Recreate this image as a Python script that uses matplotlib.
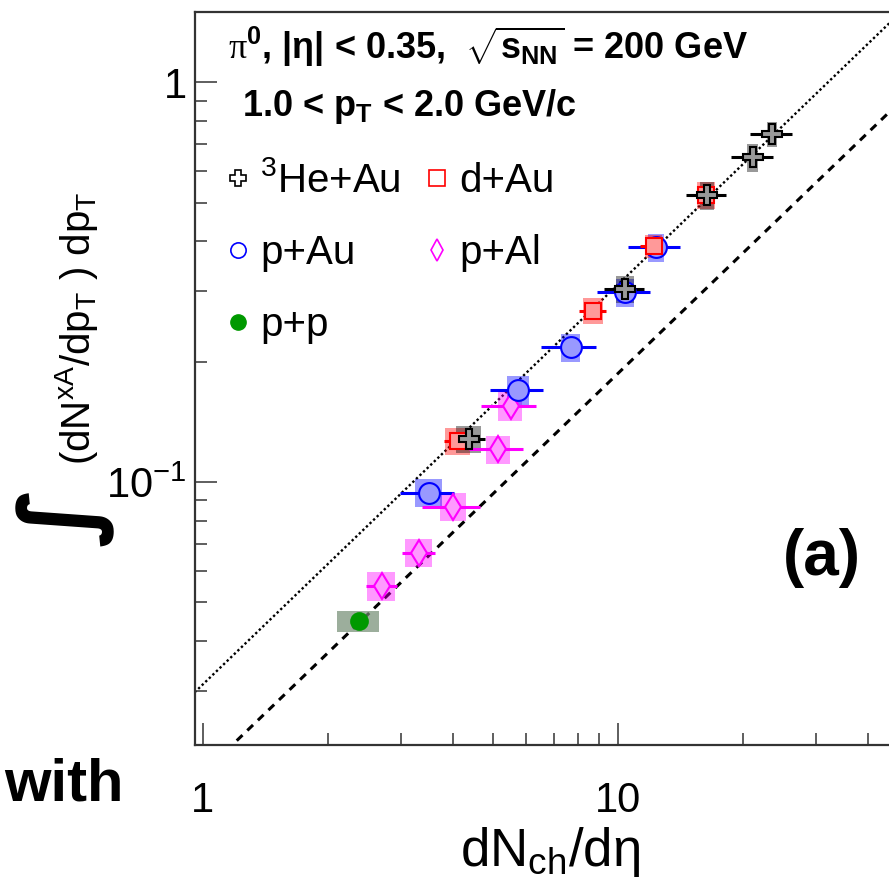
import matplotlib
matplotlib.use("Agg")
import matplotlib.pyplot as plt
import numpy as np
from matplotlib.lines import Line2D
from matplotlib.ticker import LogLocator, NullFormatter

plt.rcParams["font.family"] = ["Liberation Sans", "DejaVu Sans"]
plt.rcParams["mathtext.default"] = "regular"
plt.rcParams["mathtext.fontset"] = "custom"
plt.rcParams["mathtext.rm"] = "Liberation Serif"

# p+Au
pau_x = [3.50, 5.75, 7.70, 10.4, 12.35]
pau_y = [0.0942, 0.170, 0.2176, 0.2985, 0.387]
pau_xerr = [0.52, 0.84, 1.16, 1.52, 1.75]
pau_xsys = [0.26, 0.36, 0.41, 0.53, 0.55]
pau_ysys = [0.0076, 0.0138, 0.0176, 0.0242, 0.0313]

# p+Al
pal_x = [2.70, 3.32, 4.01, 5.14, 5.51]
pal_y = [0.0550, 0.0666, 0.0868, 0.121, 0.155]
pal_xerr = [0.23, 0.31, 0.63, 0.76, 0.82]
pal_xsys = [0.21, 0.25, 0.29, 0.34, 0.36]
pal_ysys = [0.0045, 0.0054, 0.0070, 0.0098, 0.0126]

# d+Au
dau_x = [4.11, 8.71, 12.2, 16.3]
dau_y = [0.127, 0.268, 0.389, 0.522]
dau_xerr = [0.30, 0.65, 0.90, 1.35]
dau_xsys = [0.28, 0.47, 0.55, 0.83]
dau_ysys = [0.0099, 0.020, 0.025, 0.041]

# 3He+Au
heau_x = [4.38, 10.4, 16.4, 21.15, 23.5]
heau_y = [0.128, 0.304, 0.522, 0.649, 0.741]
heau_xerr = [0.40, 1.14, 1.80, 2.45, 2.70]
heau_xsys = [0.30, 0.53, 0.66, 0.65, 0.66]
heau_ysys = [0.0099, 0.023, 0.043, 0.052, 0.053]

# p+p
pp_x = [2.38]
pp_y = [0.0449]
pp_xerr = [0.0]
pp_xsys = [0.28]
pp_ysys = [0.0026]

# reference lines  y = norm * x
dotted_norm = 0.0312
dashed_norm = 0.0187

fig = plt.figure(figsize=(8.89, 8.86), dpi=100)
ax = fig.add_axes([195 / 889, 141 / 886, 713 / 889, 733 / 886])
ax.set_xscale("log")
ax.set_yscale("log")
ax.set_xlim(0.957, 50)
ax.set_ylim(0.022, 1.5)

line_x = np.array([0.9, 60.0])
ax.plot(line_x, dotted_norm * line_x, color="black", ls=(0, (1, 1.1)), lw=1.7, zorder=1)
ax.plot(line_x, dashed_norm * line_x, color="black", ls=(0, (2.6, 2.2)), lw=2.2, zorder=1)


def draw_series(x, y, xerr, xsys, ysys, color, box_rgba, face, marker, ms):
    x = np.array(x)
    y = np.array(y)
    ysys = np.array(ysys)
    ax.bar(x, 2 * ysys, width=2 * np.array(xsys), bottom=y - ysys,
           color=box_rgba, linewidth=0, zorder=2)
    ax.errorbar(x, y, xerr=xerr, fmt="none", ecolor=color, elinewidth=2.2,
                capsize=0, zorder=3)
    ax.plot(x, y, ls="none", marker=marker, ms=ms, mec=color, mfc=face,
            mew=1.5, zorder=4)


draw_series(pp_x, pp_y, pp_xerr, pp_xsys, pp_ysys, "#009900",
            (0.45, 0.55, 0.45, 0.7), "#009900", "o", 12)
draw_series(pal_x, pal_y, pal_xerr, pal_xsys, pal_ysys, "#ff00ff",
            (1, 0, 1, 0.4), "#ff99ff", "d", 13)
draw_series(pau_x, pau_y, pau_xerr, pau_xsys, pau_ysys, "#0000ff",
            (0, 0, 1, 0.4), "#9999ff", "o", 15)
draw_series(dau_x, dau_y, dau_xerr, dau_xsys, dau_ysys, "#ff0000",
            (1, 0, 0, 0.4), "#ff9999", "s", 12)
draw_series(heau_x, heau_y, heau_xerr, heau_xsys, heau_ysys, "#000000",
            (0, 0, 0, 0.4), "#999999", "P", 14)

# axes style
ax.set_xticks([1, 10])
ax.set_xticklabels(["1", "10"])
ax.set_yticks([0.1, 1])
ax.set_yticklabels(["$10^{-1}$", "1"])
ax.xaxis.set_minor_locator(LogLocator(base=10, subs=np.arange(2, 10)))
ax.yaxis.set_minor_locator(LogLocator(base=10, subs=np.arange(2, 10)))
ax.xaxis.set_minor_formatter(NullFormatter())
ax.yaxis.set_minor_formatter(NullFormatter())
ax.tick_params(which="both", direction="in", top=False, right=False, width=1.1, color="#333333")
ax.tick_params(which="major", length=16, labelsize=30)
ax.tick_params(which="minor", length=8.5)
ax.tick_params(axis="x", which="major", pad=26)
ax.tick_params(axis="y", which="major", pad=6)
for s in ax.spines.values():
    s.set_linewidth(1.6)
    s.set_color("#333333")

# axis titles
fig.text(550 / 889, 1 - 866 / 886, "dN$_{ch}$/d$\\eta$", fontsize=38,
         ha="center", va="baseline")
fig.text(76 / 889, 1 - 328 / 886, "(dN$^{xA}$/dp$_{T}$ ) dp$_{T}$", fontsize=29,
         rotation=90, ha="center", va="center")
fig.text(64 / 889, 1 - 515 / 886, "\u222b", fontsize=72, fontweight="bold",
         family=["DejaVu Sans"], rotation=90, ha="center", va="center")

# annotations
fig.text(228 / 889, 1 - 47 / 886,
         "$\\mathrm{\\pi}^{0}$, |$\\eta$| < 0.35,  $\\sqrt{s_{NN}}$ = 200 GeV",
         fontsize=26, fontweight="bold", va="center")
fig.text(242 / 889, 1 - 107 / 886, "1.0 < p$_{T}$ < 2.0 GeV/c",
         fontsize=26, fontweight="bold", va="center")
fig.text(822 / 889, 1 - 558 / 886, "(a)", fontsize=46, fontweight="bold",
         ha="center", va="center")
fig.text(64 / 889, 1 - 785 / 886, "with", fontsize=43, fontweight="bold",
         ha="center", va="center")

# legend
handles = [
    Line2D([], [], ls="none", marker="P", ms=12, mfc="none", mec="black", mew=1.2),
    Line2D([], [], ls="none", marker="o", ms=11, mfc="none", mec="#0000ff", mew=1.2),
    Line2D([], [], ls="none", marker="o", ms=11, mfc="#009900", mec="#009900"),
    Line2D([], [], ls="none", marker="s", ms=11, mfc="none", mec="#ff0000", mew=1.2),
    Line2D([], [], ls="none", marker="d", ms=11, mfc="none", mec="#ff00ff", mew=1.2),
]
labels = ["$^{3}$He+Au", "p+Au", "p+p", "d+Au", "p+Al"]
ax.legend(handles, labels, ncol=2, loc="upper left",
          bbox_to_anchor=(222 / 889, 1 - 161 / 886), bbox_transform=fig.transFigure,
          frameon=False, fontsize=29, handlelength=0.8, handletextpad=0.15,
          columnspacing=0.5, labelspacing=0.85, borderaxespad=0, borderpad=0)

fig.savefig("out.png", dpi=100)
